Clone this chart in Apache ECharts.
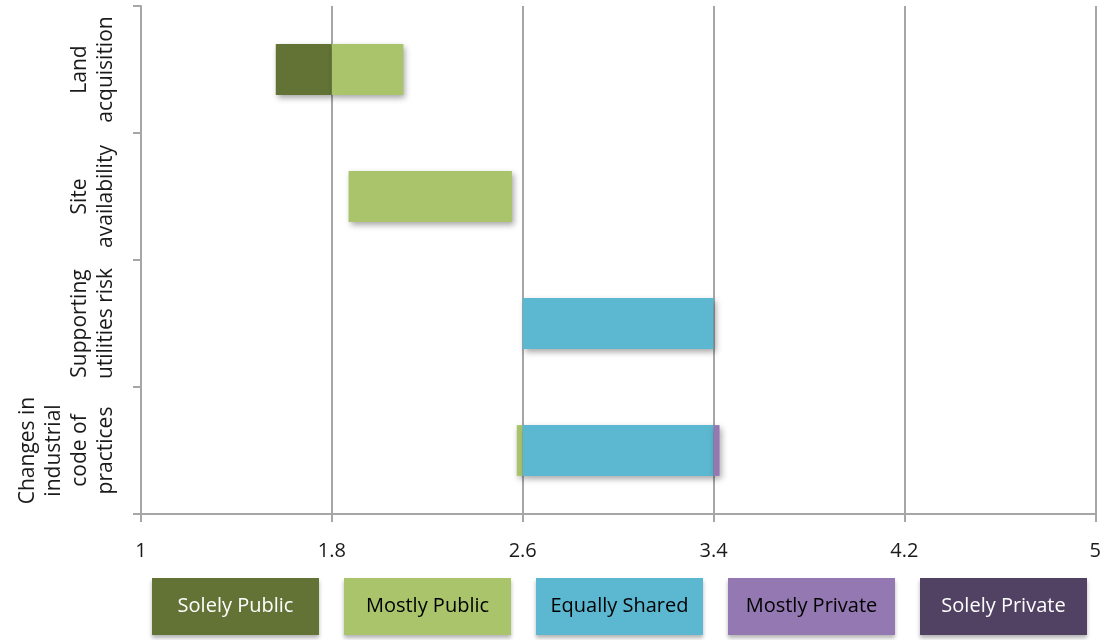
<!DOCTYPE html>
<html>
<head>
<meta charset="utf-8">
<script src="https://cdn.jsdelivr.net/npm/echarts@6/dist/echarts.min.js"></script>
<style>
  html, body { margin: 0; padding: 0; background: #fff; }
  #chart { width: 1104px; height: 640px; }
</style>
</head>
<body>
<div id="chart"></div>
<script>
// categories, top to bottom
const categories = [
  'Land\nacquisition',
  'Site\navailability',
  'Supporting\nutilities risk',
  'Changes in\nindustrial\ncode of\npractices',
]
const xTicks = [1, 5, 0.8] // min, max, step

// where each bar starts, then the length of every segment
const barStart = [1.565, 1.87, 2.6, 2.575]
const solelyPublic = [0.235, 0, 0, 0]
const mostlyPublic = [0.3, 0.685, 0, 0.025]
const equallyShared = [0, 0, 0.8, 0.8]
const mostlyPrivate = [0, 0, 0, 0.025]
const solelyPrivate = [0, 0, 0, 0]

const segments = [
  { key: 's0', name: 'Solely Public', data: solelyPublic, color: '#627335', text: '#fff' },
  { key: 's1', name: 'Mostly Public', data: mostlyPublic, color: '#aac46c', text: '#000' },
  { key: 's2', name: 'Equally Shared', data: equallyShared, color: '#5bb8d0', text: '#000' },
  { key: 's3', name: 'Mostly Private', data: mostlyPrivate, color: '#9478b2', text: '#000' },
  { key: 's4', name: 'Solely Private', data: solelyPrivate, color: '#514264', text: '#fff' },
]

const font = '"Open Sans", sans-serif'
const gridColor = '#a6a6a6'

// legend boxes: coloured blocks with the name inside
const legendRich = {}
segments.forEach((s) => {
  legendRich[s.key] = {
    color: s.text,
    backgroundColor: s.color,
    width: 167,
    height: 57,
    lineHeight: 57,
    align: 'center',
    fontSize: 20,
    fontFamily: font,
    shadowColor: 'rgba(0,0,0,0.3)',
    shadowBlur: 4,
    shadowOffsetY: 3,
  }
})

const chart = echarts.init(document.getElementById('chart'))

chart.setOption({
  animation: false,
  textStyle: { fontFamily: font },
  grid: { left: 141, right: 8, top: 6, bottom: 126 },
  legend: {
    left: 142,
    bottom: 0,
    itemGap: 20,
    itemWidth: 0,
    itemHeight: 0,
    selectedMode: false,
    data: segments.map((s) => s.name),
    formatter: (name) => {
      const s = segments.find((x) => x.name === name)
      return `{${s.key}|${name}}`
    },
    textStyle: { rich: legendRich },
  },
  xAxis: {
    type: 'value',
    min: xTicks[0],
    max: xTicks[1],
    interval: xTicks[2],
    axisLine: { show: true, lineStyle: { color: gridColor, width: 2 } },
    axisTick: { show: true, length: 8, lineStyle: { color: gridColor, width: 2 } },
    axisLabel: {
      color: '#1a1a1a',
      fontSize: 20,
      margin: 27,
      formatter: (v) => String(Math.round(v * 10) / 10),
    },
    splitLine: { show: true, lineStyle: { color: gridColor, width: 2 } },
  },
  yAxis: {
    type: 'category',
    inverse: true,
    data: categories,
    axisLine: { show: true, lineStyle: { color: gridColor, width: 2 } },
    axisTick: { show: true, interval: 0, length: 8, lineStyle: { color: gridColor, width: 2 } },
    axisLabel: {
      interval: 0,
      hideOverlap: false,
      rotate: 90,
      color: '#1a1a1a',
      fontSize: 21,
      lineHeight: 26,
      margin: 22,
      align: 'center',
    },
  },
  series: [
    {
      name: 'base',
      type: 'bar',
      stack: 'total',
      silent: true,
      barWidth: '40%',
      itemStyle: { color: 'transparent' },
      data: barStart,
    },
    ...segments.map((s) => ({
      name: s.name,
      type: 'bar',
      stack: 'total',
      barWidth: '40%',
      itemStyle: {
        color: s.color,
        shadowColor: 'rgba(0,0,0,0.35)',
        shadowBlur: 6,
        shadowOffsetX: 2,
        shadowOffsetY: 3,
      },
      data: s.data,
    })),
  ],
})
</script>
</body>
</html>
